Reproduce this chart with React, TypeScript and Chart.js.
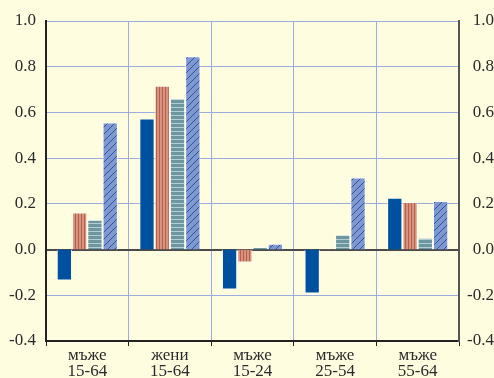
import React, { useEffect, useRef } from 'react';
import { Chart, registerables } from 'chart.js';
Chart.register(...registerables);

const categories = [
  ['мъже', '15-64'],
  ['жени', '15-64'],
  ['мъже', '15-24'],
  ['мъже', '25-54'],
  ['мъже', '55-64'],
];
const seriesSolid = [-0.135, 0.573, -0.175, -0.192, 0.227];
const seriesVertical = [0.162, 0.717, -0.057, 0.006, 0.208];
const seriesHorizontal = [0.131, 0.662, 0.011, 0.066, 0.052];
const seriesDiagonal = [0.556, 0.846, 0.026, 0.315, 0.212];
const yMin = -0.4;
const yMax = 1.0;
const yStep = 0.2;

function makePattern(kind: string): CanvasPattern | string {
  const c = document.createElement('canvas');
  const g = c.getContext('2d');
  if (!g) return '#888';
  if (kind === 'vertical') {
    c.width = 3; c.height = 1;
    g.fillStyle = '#D8937F'; g.fillRect(0, 0, 3, 1);
    g.fillStyle = '#B5604E'; g.fillRect(0, 0, 1, 1);
  } else if (kind === 'horizontal') {
    c.width = 1; c.height = 4;
    g.fillStyle = '#6C97A1'; g.fillRect(0, 0, 1, 4);
    g.fillStyle = '#B3CDD0'; g.fillRect(0, 3, 1, 1);
  } else {
    c.width = 7; c.height = 7;
    g.fillStyle = '#8098CE'; g.fillRect(0, 0, 7, 7);
    g.fillStyle = '#2256B0';
    for (let i = 0; i < 7; i++) g.fillRect(i, 6 - i, 1, 1);
  }
  const p = g.createPattern(c, 'repeat');
  return p || '#888';
}

const fmt = (v: any) => {
  const n = Number(v);
  return Math.abs(n) < 1e-9 ? '0.0' : n.toFixed(1);
};

export default function App() {
  const ref = useRef<HTMLCanvasElement | null>(null);
  useEffect(() => {
    if (!ref.current) return;
    const font = { family: '"Liberation Serif", "Times New Roman", serif', size: 17 };
    const border = 'rgba(255,255,250,0.75)';
    const textColor = '#2a2a2a';
    const chart = new Chart(ref.current, {
      type: 'bar',
      data: {
        labels: categories,
        datasets: [
          { data: seriesSolid, backgroundColor: '#0050A0', borderColor: border, borderWidth: 1 },
          { data: seriesVertical, backgroundColor: makePattern('vertical') as any, borderColor: border, borderWidth: 1 },
          { data: seriesHorizontal, backgroundColor: makePattern('horizontal') as any, borderColor: border, borderWidth: 1 },
          { data: seriesDiagonal, backgroundColor: makePattern('diagonal') as any, borderColor: border, borderWidth: 1 },
        ],
      },
      options: {
        animation: false,
        responsive: false,
        maintainAspectRatio: false,
        layout: { padding: { top: 21, left: 0, right: 0, bottom: 0 } },
        datasets: { bar: { categoryPercentage: 0.74, barPercentage: 1.0 } },
        plugins: { legend: { display: false }, tooltip: { enabled: false } },
        scales: {
          x: {
            grid: {
              offset: true,
              color: '#9DACDF',
              lineWidth: 1,
              tickColor: '#222',
              tickLength: 5,
              drawTicks: true,
            },
            border: { color: '#222', width: 2 },
            ticks: { font: { ...font, lineHeight: 0.95 }, color: textColor, padding: 1, maxRotation: 0, autoSkip: false },
            afterFit: (s: any) => { s.height = 37; },
          },
          y: {
            position: 'left',
            min: yMin,
            max: yMax,
            ticks: { stepSize: yStep, font, color: textColor, padding: 10, callback: fmt },
            grid: {
              drawTicks: false,
              color: (ctx: any) => {
                const v = ctx.tick ? ctx.tick.value : 1;
                if (Math.abs(v) < 1e-9) return '#4a4a4a';
                if (Math.abs(v - yMin) < 1e-9) return '#222';
                return '#9DACDF';
              },
              lineWidth: (ctx: any) => {
                const v = ctx.tick ? ctx.tick.value : 1;
                if (Math.abs(v) < 1e-9 || Math.abs(v - yMin) < 1e-9) return 2;
                return 1;
              },
            },
            border: { color: '#222', width: 2 },
            afterFit: (s: any) => { s.width = 46; },
          },
          y2: {
            position: 'right',
            min: yMin,
            max: yMax,
            ticks: { stepSize: yStep, font, color: textColor, padding: 7, crossAlign: 'far', callback: fmt },
            grid: { drawOnChartArea: false, drawTicks: false },
            border: { color: '#555', width: 2 },
            afterFit: (s: any) => { s.width = 35; },
          },
        },
      } as any,
    });
    return () => chart.destroy();
  }, []);
  return (
    <div style={{ position: 'fixed', left: 0, top: 0, width: 494, height: 378, background: '#FFFDE0' }}>
      <canvas ref={ref} width={494} height={378} style={{ width: 494, height: 378, display: 'block' }} />
    </div>
  );
}
